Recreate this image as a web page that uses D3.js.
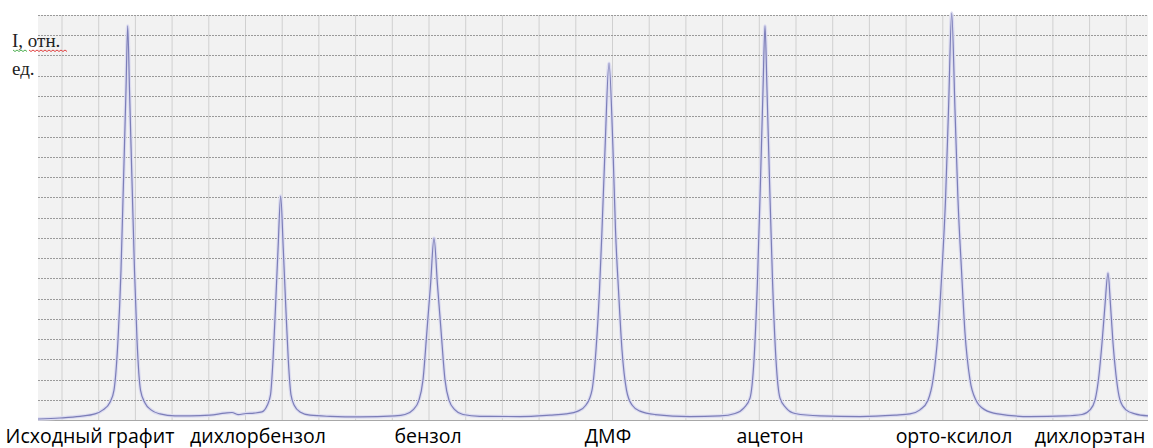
<!DOCTYPE html>
<html>
<head>
<meta charset="utf-8">
<script src="https://cdn.jsdelivr.net/npm/d3@7"></script>
<style>
  body { margin: 0; background: #fff; }
  svg { display: block; }
</style>
</head>
<body>
<svg id="chart" width="1153" height="448"></svg>
<script>
// sample names under the peaks
var sampleNames = ["Исходный графит", "дихлорбензол", "бензол", "ДМФ", "ацетон", "орто-ксилол", "дихлорэтан"];

// spectrum: channel and relative intensity (%)
var channel = [
  0, 22, 42, 57, 65, 72, 76, 80, 83, 85.5, 88, 89.7, 91.5, 94, 96.5, 99, 102.5, 107, 113, 122, 137,
  152, 172, 187, 194, 200, 208, 216,
  224, 229, 232.5, 235, 237.5, 240, 242.7, 245.3, 247.8, 250.3, 253, 256.5, 262, 272,
  292, 322, 357,
  367, 375, 381, 385, 389, 392.5, 396, 399.5, 403, 407, 411, 417, 425, 442,
  482, 512,
  528, 540, 548, 554, 558, 561.5, 564, 567, 571, 575, 577.5, 580.5, 584, 588.5, 594, 602, 617,
  652, 682,
  697, 706, 712, 716, 719.5, 722.5, 725, 727, 729, 731.5, 734.5, 738, 742, 748, 757,
  782, 822, 857,
  872, 882, 890, 895, 900, 904, 907.5, 910.5, 913.7, 917, 920, 923.5, 927, 932, 938, 947, 960,
  992, 1027,
  1044, 1052, 1057, 1061, 1064, 1067, 1070, 1072.5, 1075, 1078, 1082, 1088, 1097, 1110
];
var intensity = [
  0.25, 0.5, 0.9, 1.5, 2.5, 4.4, 7.4, 19.8, 37, 59, 81.5, 97.3, 81.5, 59, 37, 19.8, 7.4, 4.2, 2.5, 1.5, 1.0,
  1.0, 1.2, 1.7, 1.85, 1.35, 1.6, 1.7,
  2.0, 3.5, 6.2, 14.8, 27.9, 42, 55.3, 42, 27.9, 14.8, 6.2, 3.5, 2.0, 1.2,
  0.9, 0.75, 1.0,
  1.35, 2.5, 4.9, 9.9, 22.2, 33.3, 44.9, 33.3, 22.2, 9.9, 4.9, 2.5, 1.35, 0.9,
  0.85, 1.2,
  1.5, 2.2, 3.7, 7.4, 17.3, 32.1, 46.9, 66.7, 88.1, 66.7, 46.9, 32.1, 17.3, 7.4, 3.7, 2.2, 1.35,
  0.85, 1.0,
  1.6, 3.0, 5.4, 14.8, 34.6, 59.3, 81.5, 97.3, 81.5, 59.3, 34.6, 14.8, 5.4, 3.0, 1.6,
  1.0, 0.85, 1.2,
  1.5, 2.5, 4.9, 9.9, 21.5, 37, 54.3, 76.5, 100.5, 76.5, 54.3, 37, 21.5, 9.9, 4.9, 2.5, 1.5,
  0.85, 1.0,
  1.35, 2.5, 4.9, 11.1, 19, 28.4, 36.3, 28.4, 19, 11.1, 4.9, 2.5, 1.5, 1.0
];

// layout
var plot = { left: 38, right: 1148, top: 15, bottom: 420 };
var labelCenters = [90, 258, 428, 608, 770, 954, 1090];

var svg = d3.select("#chart");

var x = d3.scaleLinear().domain([0, 1110]).range([plot.left, plot.right]);
var y = d3.scaleLinear().domain([0, 100]).range([plot.bottom, plot.top]);

svg.append("rect")
    .attr("x", plot.left)
    .attr("y", plot.top)
    .attr("width", plot.right - plot.left)
    .attr("height", plot.bottom - plot.top)
    .attr("fill", "#f2f2f2");

// vertical grid (every 36.7 channels)
svg.append("g")
    .selectAll("line")
    .data(d3.range(24, 1110, 36.7))
    .enter().append("line")
    .attr("x1", function(d) { return x(d); })
    .attr("x2", function(d) { return x(d); })
    .attr("y1", plot.top)
    .attr("y2", plot.bottom)
    .attr("stroke", "#d0d0d0")
    .attr("stroke-width", 1);

// horizontal grid, dotted
svg.append("g")
    .selectAll("line")
    .data(d3.range(5, 101, 5))
    .enter().append("line")
    .attr("x1", plot.left)
    .attr("x2", plot.right)
    .attr("y1", function(d) { return Math.round(y(d)) + 0.5; })
    .attr("y2", function(d) { return Math.round(y(d)) + 0.5; })
    .attr("stroke", "#9a9a9a")
    .attr("stroke-width", 1)
    .attr("stroke-dasharray", "2,1");

svg.append("line")
    .attr("x1", plot.left)
    .attr("x2", plot.right)
    .attr("y1", y(0) + 0.5)
    .attr("y2", y(0) + 0.5)
    .attr("stroke", "#a8a8a8");

var points = channel.map(function(c, i) { return [c, intensity[i]]; });

var line = d3.line()
    .x(function(d) { return x(d[0]); })
    .y(function(d) { return y(d[1]); })
    .curve(d3.curveMonotoneX);

// soft halo then the line
svg.append("path")
    .datum(points)
    .attr("d", line)
    .attr("fill", "none")
    .attr("stroke", "#dcdcf0")
    .attr("stroke-width", 3.5)
    .attr("stroke-linejoin", "round");

svg.append("path")
    .datum(points)
    .attr("d", line)
    .attr("fill", "none")
    .attr("stroke", "#7c7eb8")
    .attr("stroke-width", 1.2)
    .attr("stroke-linejoin", "round");

// axis caption
var cap = svg.append("g")
    .style("font-family", "'Liberation Serif', 'Times New Roman', serif")
    .style("font-size", "19px")
    .attr("fill", "#222");
cap.append("text").attr("x", 12).attr("y", 47).text("I, отн.");
cap.append("text").attr("x", 12).attr("y", 75).text("ед.");

// spell-check squiggles
function squiggle(x0, x1, yy, color) {
    var pts = [];
    for (var xx = x0, k = 0; xx <= x1; xx += 2, k++) pts.push([xx, yy + (k % 2 ? 1.5 : 0)]);
    svg.append("path")
        .attr("d", d3.line()(pts))
        .attr("fill", "none")
        .attr("stroke", color)
        .attr("stroke-width", 1);
}
squiggle(13, 27, 50, "#4caf50");
squiggle(29, 67, 50, "#e04040");

// sample labels
svg.append("g")
    .selectAll("text")
    .data(sampleNames)
    .enter().append("text")
    .attr("x", function(d, i) { return labelCenters[i]; })
    .attr("y", 443)
    .attr("text-anchor", "middle")
    .style("font-family", "'Open Sans', 'Noto Sans', sans-serif")
    .style("font-size", "19.5px")
    .attr("fill", "#000")
    .text(function(d) { return d; });
</script>
</body>
</html>
